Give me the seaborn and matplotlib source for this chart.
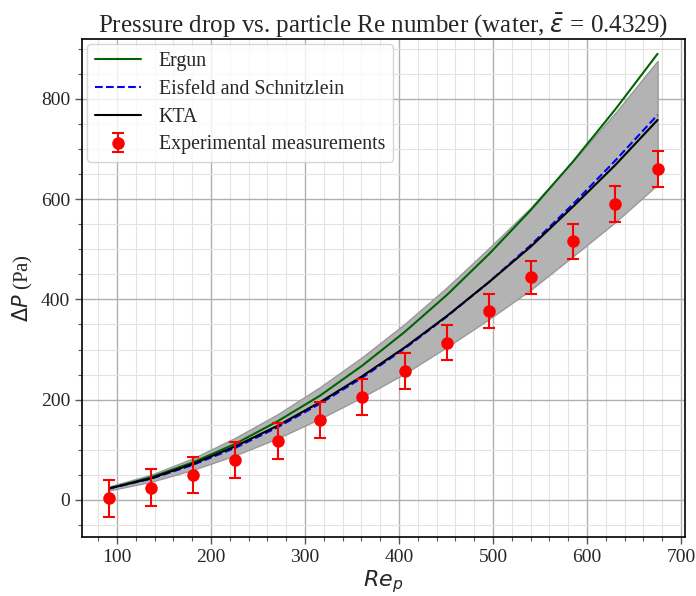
import numpy as np
import pandas as pd
import matplotlib
matplotlib.use("Agg")
import matplotlib.pyplot as plt
import seaborn as sns
from matplotlib.ticker import MultipleLocator

# ---- data ----
re_p = [92, 136, 181, 226, 271, 316, 361, 406, 451, 496, 540, 585, 630, 675]
ergun = [23, 45, 75, 112, 157, 208, 268, 335, 409, 491, 578, 675, 779, 890]
eisfeld = [23, 42, 70, 104, 145, 192, 244, 302, 366, 435, 508, 590, 677, 768]
kta = [23, 43, 72, 107, 148, 195, 247, 304, 367, 435, 505, 585, 668, 758]
band_upper = [27, 50, 83, 124, 171, 225, 285, 351, 424, 503, 583, 676, 772, 876]
band_lower = [19, 36, 60, 89, 123, 162, 205, 252, 305, 361, 419, 486, 554, 629]
exp_dp = [3, 24, 49, 80, 117, 159, 206, 257, 314, 377, 444, 516, 591, 661]
exp_err = [37, 37, 36, 36, 36, 36, 36, 36, 35, 34, 33, 35, 36, 36]

title = r"Pressure drop vs. particle Re number (water, $\bar{\varepsilon}$ = 0.4329)"

sns.set_theme(style="ticks")
plt.rcParams["font.family"] = ["Liberation Serif", "DejaVu Serif"]
plt.rcParams["mathtext.fontset"] = "dejavusans"

fig = plt.figure(figsize=(6.96, 5.96), dpi=100)
ax = fig.add_axes([0.118, 0.099, 0.866, 0.836])

df = pd.DataFrame({"Re": re_p, "Ergun": ergun, "ES": eisfeld, "KTA": kta})

ax.fill_between(re_p, band_lower, band_upper, facecolor="#b3b3b3",
                edgecolor="#999999", linewidth=1.0, zorder=2)
sns.lineplot(data=df, x="Re", y="Ergun", ax=ax, color="darkgreen", lw=1.5,
             label="Ergun", zorder=3)
sns.lineplot(data=df, x="Re", y="ES", ax=ax, color="blue", lw=1.5,
             linestyle="--", label="Eisfeld and Schnitzlein", zorder=4)
sns.lineplot(data=df, x="Re", y="KTA", ax=ax, color="black", lw=1.5,
             label="KTA", zorder=4)
ax.errorbar(re_p, exp_dp, yerr=exp_err, fmt="o", color="red", ms=8,
            capsize=4, elinewidth=1.5, capthick=1.5,
            label="Experimental measurements", zorder=5)

ax.set_xlim(63, 704)
ax.set_ylim(-74, 920)
ax.xaxis.set_major_locator(MultipleLocator(100))
ax.xaxis.set_minor_locator(MultipleLocator(20))
ax.yaxis.set_major_locator(MultipleLocator(200))
ax.yaxis.set_minor_locator(MultipleLocator(50))
ax.grid(which="major", color="#b0b0b0", lw=1.0)
ax.grid(which="minor", color="#e3e3e3", lw=0.8)
ax.set_axisbelow(True)
ax.tick_params(which="major", labelsize=14, length=5, width=1, color="#555555")
ax.tick_params(which="minor", length=3, width=0.8, color="#555555")
for s in ax.spines.values():
    s.set_color("black")
    s.set_linewidth(1.2)

ax.set_xlabel(r"$Re_p$", fontsize=16, labelpad=2)
ax.set_ylabel(r"$\Delta P$ (Pa)", fontsize=15)
ax.set_title(title, fontsize=18, pad=5)

leg = ax.legend(loc="upper left", fontsize=14.3, frameon=True, fancybox=True,
                framealpha=0.8, edgecolor="#cccccc", handlelength=2.3,
                handletextpad=0.9, labelspacing=0.45, borderaxespad=0.25)

fig.savefig("out.png", dpi=100)
